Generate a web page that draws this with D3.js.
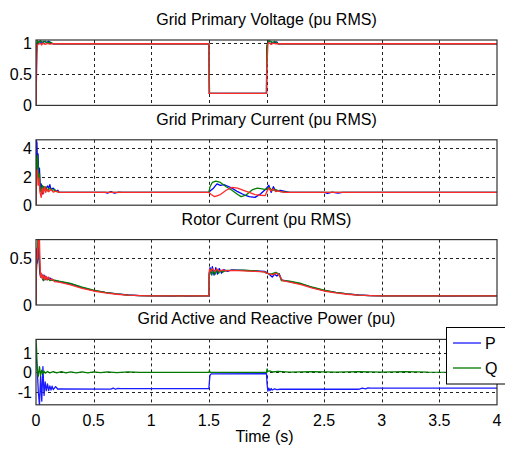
<!DOCTYPE html>
<html>
<head>
<meta charset="utf-8">
<script src="https://cdn.jsdelivr.net/npm/d3@7/dist/d3.min.js"></script>
<style>
  html, body { margin: 0; padding: 0; background: #fff; }
  svg text { font-family: "Liberation Sans", Arial, sans-serif; font-size: 16px; fill: #000; }
</style>
</head>
<body>
<svg id="chart" width="505" height="452"></svg>
<script>
// ---- Time axis ----
const timeTicks = [0, 0.5, 1, 1.5, 2, 2.5, 3, 3.5, 4];
const timeTickLabels = ["0", "0.5", "1", "1.5", "2", "2.5", "3", "3.5", "4"];

// ---- Panel titles and y ticks ----
const panelTitles = [
  "Grid Primary Voltage (pu RMS)",
  "Grid Primary Current (pu RMS)",
  "Rotor Current (pu RMS)",
  "Grid Active and Reactive Power (pu)"
];
const voltTicks = [0, 0.5, 1];
const voltTickLabels = ["0", "0.5", "1"];
const currTicks = [0, 2, 4];
const currTickLabels = ["0", "2", "4"];
const rotorTicks = [0, 0.5];
const rotorTickLabels = ["0", "0.5"];
const powerTicks = [-1, 0, 1];
const powerTickLabels = ["-1", "0", "1"];

// ---- Grid primary voltage, phases a/b/c, [time s, pu] ----
const voltA = [[0,0],[0.003,0.3],[0.006,0.85],[0.012,1.0],[0.03,1.02],[0.05,0.99],[0.07,1.02],[0.09,1.0],[0.11,1.02],[0.13,0.99],[0.15,0.98],[1.5,0.98],[1.502,0.55],[1.504,0.19],[2,0.19],[2.003,0.9],[2.01,1.0],[2.03,1.02],[2.06,0.99],[2.09,1.01],[2.1,0.98],[4,0.98]];
const voltB = [[0,0],[0.004,0.8],[0.01,1.03],[0.025,1.0],[0.04,1.03],[0.06,1.0],[0.08,1.02],[0.1,0.99],[0.12,1.01],[0.15,0.98],[1.5,0.98],[1.501,0.8],[1.503,0.5],[1.506,0.19],[2,0.19],[2.002,0.95],[2.02,1.03],[2.05,1.0],[2.07,1.02],[2.1,0.98],[4,0.98]];
const voltC = [[0,0],[0.002,0],[0.004,0.55],[0.008,0.9],[0.015,0.97],[0.04,0.985],[0.05,0.96],[0.06,0.99],[0.08,0.97],[0.1,0.985],[0.12,0.975],[0.14,0.98],[1.5,0.98],[1.502,0.19],[2.0,0.19],[2.002,0.55],[2.012,0.97],[2.02,1.0],[2.04,0.97],[2.06,0.99],[2.08,0.98],[4,0.98]];

// ---- Grid primary current, phases a/b/c ----
const currA = [[0,0],[0.002,4.6],[0.008,4.4],[0.012,3.0],[0.018,3.6],[0.024,1.9],[0.03,2.6],[0.038,1.0],[0.045,1.5],[0.055,0.8],[0.065,1.3],[0.08,1.1],[0.1,1.35],[0.11,1.2],[0.12,1.45],[0.13,1.1],[0.15,1.2],[0.17,1.0],[0.19,1.05],[0.2,0.9],[0.6,0.9],[0.62,0.85],[0.65,0.95],[0.68,0.85],[0.72,0.92],[0.75,0.9],[1.5,0.9],[1.51,1.0],[1.54,1.2],[1.57,1.5],[1.6,1.4],[1.63,1.45],[1.66,1.35],[1.7,1.2],[1.75,0.95],[1.8,0.75],[1.85,0.6],[1.9,0.55],[1.95,0.8],[1.99,1.1],[2.02,1.4],[2.04,0.9],[2.06,1.3],[2.08,1.0],[2.12,1.05],[2.2,0.9],[2.5,0.9],[2.53,0.84],[2.57,0.92],[2.62,0.85],[2.66,0.9],[4,0.9]];
const currB = [[0,0],[0.003,3.3],[0.008,2.2],[0.013,3.5],[0.018,2.8],[0.024,1.6],[0.03,2.2],[0.036,1.1],[0.045,0.9],[0.055,1.4],[0.07,1.1],[0.085,1.3],[0.1,1.0],[0.12,1.2],[0.14,1.05],[0.16,1.1],[0.18,0.95],[0.2,0.9],[1.5,0.9],[1.51,1.3],[1.53,1.6],[1.56,1.7],[1.6,1.6],[1.65,1.3],[1.7,1.05],[1.75,0.75],[1.78,0.6],[1.82,0.7],[1.88,1.1],[1.92,1.2],[1.96,1.15],[2.0,1.1],[2.02,1.25],[2.05,1.05],[2.08,1.1],[2.12,0.95],[2.2,0.9],[4,0.9]];
const currC = [[0,0],[0.003,2.3],[0.008,1.9],[0.012,2.5],[0.018,1.4],[0.025,1.9],[0.035,0.9],[0.045,0.55],[0.055,1.2],[0.065,0.8],[0.075,1.3],[0.085,0.9],[0.095,1.15],[0.11,0.95],[0.13,1.1],[0.15,0.92],[0.18,1.0],[0.2,0.9],[1.5,0.9],[1.52,0.75],[1.55,0.6],[1.6,0.75],[1.65,1.05],[1.7,1.25],[1.75,1.2],[1.8,1.05],[1.85,0.9],[1.9,0.75],[1.95,0.7],[1.99,0.68],[2.0,0.9],[2.02,1.2],[2.04,1.0],[2.06,1.15],[2.08,0.95],[2.1,1.0],[2.15,0.9],[4,0.9]];

// ---- Rotor current, phases a/b/c ----
const rotorA = [[0,0],[0.002,0.25],[0.006,0.6],[0.012,0.45],[0.018,0.62],[0.025,0.55],[0.032,0.36],[0.04,0.3],[0.05,0.33],[0.06,0.27],[0.07,0.32],[0.08,0.28],[0.09,0.3],[0.1,0.27],[0.12,0.29],[0.14,0.27],[0.16,0.26],[0.2,0.25],[0.3,0.225],[0.4,0.185],[0.5,0.155],[0.6,0.135],[0.7,0.118],[0.8,0.107],[0.9,0.1],[1.0,0.097],[1.2,0.096],[1.25,0.1],[1.3,0.096],[1.5,0.097],[1.502,0.32],[1.51,0.4],[1.52,0.33],[1.53,0.41],[1.545,0.32],[1.56,0.4],[1.575,0.33],[1.59,0.39],[1.61,0.34],[1.63,0.38],[1.66,0.36],[1.7,0.375],[1.8,0.37],[1.9,0.365],[1.98,0.36],[2.0,0.35],[2.03,0.32],[2.05,0.3],[2.07,0.33],[2.09,0.31],[2.11,0.335],[2.13,0.27],[2.2,0.25],[2.3,0.225],[2.4,0.185],[2.5,0.155],[2.6,0.135],[2.7,0.118],[2.8,0.107],[2.9,0.1],[3.0,0.097],[3.4,0.097],[3.45,0.1],[3.5,0.096],[4,0.097]];
const rotorB = [[0,0],[0.004,0.4],[0.01,0.55],[0.016,0.7],[0.024,0.7],[0.03,0.5],[0.036,0.33],[0.045,0.3],[0.055,0.31],[0.065,0.26],[0.075,0.3],[0.085,0.27],[0.1,0.29],[0.12,0.26],[0.15,0.27],[0.2,0.255],[0.3,0.232],[0.4,0.192],[0.5,0.158],[0.6,0.136],[0.7,0.118],[0.8,0.106],[0.9,0.1],[1.0,0.097],[1.5,0.097],[1.503,0.34],[1.515,0.38],[1.525,0.32],[1.54,0.37],[1.555,0.33],[1.57,0.38],[1.585,0.34],[1.6,0.37],[1.62,0.35],[1.65,0.37],[1.7,0.37],[1.8,0.372],[1.9,0.365],[1.98,0.355],[2.0,0.34],[2.04,0.33],[2.08,0.35],[2.11,0.33],[2.13,0.26],[2.2,0.255],[2.3,0.23],[2.4,0.19],[2.5,0.158],[2.6,0.136],[2.7,0.118],[2.8,0.106],[2.9,0.1],[3.0,0.097],[4,0.097]];
const rotorC = [[0,0],[0.003,0.35],[0.01,0.6],[0.015,0.5],[0.02,0.7],[0.03,0.7],[0.035,0.45],[0.04,0.3],[0.045,0.34],[0.055,0.28],[0.065,0.32],[0.075,0.27],[0.085,0.31],[0.095,0.27],[0.105,0.3],[0.12,0.27],[0.14,0.28],[0.16,0.25],[0.2,0.245],[0.3,0.215],[0.4,0.178],[0.5,0.15],[0.6,0.13],[0.7,0.115],[0.8,0.105],[0.9,0.1],[1.0,0.097],[1.5,0.097],[1.502,0.3],[1.505,0.38],[1.52,0.36],[1.53,0.39],[1.55,0.36],[1.57,0.385],[1.59,0.36],[1.62,0.375],[1.65,0.365],[1.7,0.37],[1.8,0.365],[1.9,0.36],[1.98,0.355],[2.0,0.34],[2.03,0.33],[2.06,0.325],[2.08,0.34],[2.1,0.33],[2.12,0.3],[2.14,0.26],[2.2,0.245],[2.3,0.218],[2.4,0.18],[2.5,0.15],[2.6,0.13],[2.7,0.115],[2.8,0.105],[2.9,0.1],[3.0,0.097],[4,0.097]];

// ---- Grid active (P) and reactive (Q) power ----
const powerP = [[0,0.9],[0.01,0.3],[0.02,-1.0],[0.03,-1.7],[0.04,-0.2],[0.05,-1.5],[0.06,0.3],[0.07,-1.2],[0.08,-0.5],[0.09,-0.95],[0.1,-0.6],[0.11,-0.95],[0.12,-0.7],[0.13,-0.92],[0.14,-0.72],[0.15,-0.9],[0.17,-0.74],[0.19,-0.88],[0.2,-0.86],[0.65,-0.87],[0.67,-0.82],[0.69,-0.88],[0.71,-0.83],[0.73,-0.85],[1.5,-0.84],[1.505,-0.45],[1.51,-0.15],[1.52,-0.08],[2.0,-0.07],[2.005,-0.6],[2.012,-0.98],[2.02,-0.82],[2.03,-0.95],[2.04,-0.84],[2.05,-0.92],[2.07,-0.86],[2.09,-0.9],[2.12,-0.88],[2.8,-0.88],[2.83,-0.82],[2.86,-0.86],[2.88,-0.81],[2.9,-0.82],[4,-0.82]];
const powerQ = [[0,1.7],[0.005,1.2],[0.01,0.2],[0.02,-0.2],[0.03,0.3],[0.04,-0.15],[0.05,0.12],[0.06,-0.06],[0.07,0.06],[0.08,-0.04],[0.1,0.05],[0.12,-0.03],[0.15,0.04],[0.18,-0.02],[0.22,0.04],[0.26,-0.02],[0.3,0.03],[0.35,-0.02],[0.4,0.03],[0.45,-0.02],[0.5,0.03],[0.56,-0.01],[0.62,0.03],[0.7,-0.01],[0.8,0.03],[0.9,0],[1.5,0],[1.505,0.1],[1.51,0],[2.0,0],[2.005,0.18],[2.01,0.05],[2.03,0.08],[2.05,0.02],[2.1,0.05],[2.2,0.01],[2.4,0.04],[2.6,0.01],[2.8,0.04],[3.0,0.01],[3.2,0.04],[3.4,0.01],[4,0]];

const legendLabels = ["P", "Q"];

// ---- Layout ----
const svg = d3.select("#chart");
const left = 36, right = 497;
const panelTop0 = 40, panelStep = 99.8, panelH = 65.4;

const colors = { a: "#0000ff", b: "#008000", c: "#ff2a2a", p: "#1a1aff", q: "#007a00" };

const x = d3.scaleLinear().domain([0, 4]).range([left, right]);

const panels = [
  { domain: [0, 1.04], ticks: voltTicks, labels: voltTickLabels,
    series: [[voltA, colors.a], [voltB, colors.b], [voltC, colors.c]] },
  { domain: [0, 4.6], ticks: currTicks, labels: currTickLabels,
    series: [[currA, colors.a], [currB, colors.b], [currC, colors.c]] },
  { domain: [0, 0.7], ticks: rotorTicks, labels: rotorTickLabels,
    series: [[rotorA, colors.a], [rotorB, colors.b], [rotorC, colors.c]] },
  { domain: [-1.69, 1.72], ticks: powerTicks, labels: powerTickLabels,
    series: [[powerP, colors.p], [powerQ, colors.q]] }
];

panels.forEach((p, i) => {
  const top = panelTop0 + i * panelStep;
  const bottom = top + panelH;
  const y = d3.scaleLinear().domain(p.domain).range([bottom, top]);
  const g = svg.append("g");

  // title
  g.append("text").attr("x", (left + right) / 2).attr("y", top - 15)
    .attr("text-anchor", "middle").text(panelTitles[i]);

  // clip
  const clipId = "clip" + i;
  svg.append("clipPath").attr("id", clipId).append("rect")
    .attr("x", left).attr("y", top).attr("width", right - left).attr("height", bottom - top);

  // grid
  const grid = g.append("g").attr("stroke", "#222").attr("stroke-width", 1)
    .attr("stroke-dasharray", "3,3");
  grid.selectAll("line.v").data(timeTicks.slice(1, -1)).join("line")
    .attr("x1", d => Math.round(x(d)) + 0.5).attr("x2", d => Math.round(x(d)) + 0.5)
    .attr("y1", top).attr("y2", bottom);
  grid.selectAll("line.h").data(p.ticks.filter(t => y(t) < bottom - 1 && y(t) > top + 1)).join("line")
    .attr("x1", left).attr("x2", right)
    .attr("y1", d => Math.round(y(d)) + 0.5).attr("y2", d => Math.round(y(d)) + 0.5);

  // series
  const line = d3.line().x(d => x(d[0])).y(d => y(d[1]));
  const sg = g.append("g").attr("clip-path", `url(#${clipId})`);
  p.series.forEach(([data, col]) => {
    sg.append("path").attr("d", line(data)).attr("fill", "none")
      .attr("stroke", col).attr("stroke-width", 1.3).attr("stroke-linejoin", "round");
  });

  // box
  g.append("rect").attr("x", left).attr("y", top).attr("width", right - left).attr("height", bottom - top)
    .attr("fill", "none").attr("stroke", "#333").attr("stroke-width", 1.2);

  // y tick labels
  g.selectAll("text.yt").data(p.ticks).join("text")
    .attr("x", 32).attr("y", d => y(d) + 6)
    .attr("text-anchor", "end").text((d, k) => p.labels[k]);

  if (i === panels.length - 1) {
    g.selectAll("text.xt").data(timeTicks).join("text")
      .attr("x", d => x(d)).attr("y", bottom + 21.5)
      .attr("text-anchor", "middle").text((d, k) => timeTickLabels[k]);
    g.append("text").attr("x", (left + right) / 2 - 2).attr("y", bottom + 37)
      .attr("text-anchor", "middle").text("Time (s)");

    // legend
    const lg = svg.append("g");
    lg.append("rect").attr("x", 446.5).attr("y", 327.5).attr("width", 70).attr("height", 56.5)
      .attr("fill", "#fff").attr("stroke", "#000").attr("stroke-width", 1);
    [colors.p, colors.q].forEach((c, k) => {
      const yy = 343 + k * 25;
      lg.append("line").attr("x1", 453).attr("x2", 481).attr("y1", yy).attr("y2", yy)
        .attr("stroke", c).attr("stroke-width", 1.3);
      lg.append("text").attr("x", 485).attr("y", yy + 6).text(legendLabels[k]);
    });
  }
});
</script>
</body>
</html>
